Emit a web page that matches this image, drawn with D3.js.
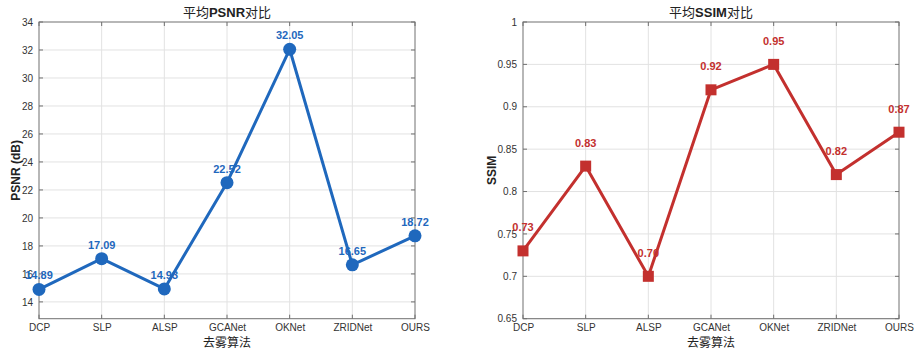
<html>
<head>
<meta charset="utf-8">
<title>去雾算法对比</title>
<style>
body {
	margin: 0;
	background: white;
}
svg {
	display: block;
	font-family: "Liberation Sans", Arial, sans-serif;
}
.tick text {
	fill: #333;
	font-size: 10px;
}
.grid line {
	stroke: #e2e2e2;
	stroke-width: 1px;
}
.frame {
	fill: none;
	stroke: #707070;
	stroke-width: 1px;
}
.ticks line {
	stroke: #707070;
}
.line {
	fill: none;
	stroke-width: 3px;
	stroke-linejoin: round;
}
.value {
	font-size: 11px;
	font-weight: 700;
	text-anchor: middle;
}
.title, .xlabel {
	font-family: "Noto Sans CJK SC", sans-serif;
	fill: #222;
	text-anchor: middle;
}
.title { font-size: 13px; }
.xlabel { font-size: 12px; }
.ylabel {
	font-size: 12px;
	font-weight: 700;
	fill: #222;
	text-anchor: middle;
}
</style>
</head>
<body>
<svg id="chart" width="914" height="355"></svg>

<script src="https://cdn.jsdelivr.net/npm/d3@7"></script>
<script>

var methods = ["DCP", "SLP", "ALSP", "GCANet", "OKNet", "ZRIDNet", "OURS"];
var psnr = [14.89, 17.09, 14.93, 22.52, 32.05, 16.65, 18.72];
var ssim = [0.73, 0.83, 0.70, 0.92, 0.95, 0.82, 0.87];
var psnrTicks = [14, 16, 18, 20, 22, 24, 26, 28, 30, 32, 34];
var ssimTicks = [0.65, 0.7, 0.75, 0.8, 0.85, 0.9, 0.95, 1];

var svg = d3.select("#chart");

var panels = [
	{left: 39, right: 415, top: 22, bottom: 318.7,
	 domain: [12.8, 34], ticks: psnrTicks, fmt: d3.format("d"),
	 values: psnr, color: "#1f68bd", marker: "circle", labelFmt: d3.format(".2f"), labelDy: -10,
	 title: ["平均", "PSNR", "对比"], ylabel: "PSNR (dB)", ylabelX: 16},
	{left: 523, right: 899, top: 22, bottom: 318.7,
	 domain: [0.65, 1], ticks: ssimTicks, fmt: function(d) { return d3.format("")(+d.toFixed(2)); },
	 values: ssim, color: "#c3302e", marker: "square", labelFmt: d3.format(".2f"), labelDy: -19.5,
	 title: ["平均", "SSIM", "对比"], ylabel: "SSIM", ylabelX: 492}
];

panels.forEach(function(p) {
	var x = d3.scalePoint()
		.domain(methods)
		.range([p.left, p.right]);
	var y = d3.scaleLinear()
		.domain(p.domain)
		.range([p.bottom, p.top]);

	var g = svg.append("g");

	// grid
	var grid = g.append("g").attr("class", "grid");
	grid.selectAll(".gx")
		.data(methods.slice(1, -1))
	  .enter().append("line")
		.attr("x1", function(d) { return x(d); })
		.attr("x2", function(d) { return x(d); })
		.attr("y1", p.top)
		.attr("y2", p.bottom);
	grid.selectAll(".gy")
		.data(p.ticks.filter(function(t) { return y(t) > p.top + 1; }))
	  .enter().append("line")
		.attr("x1", p.left)
		.attr("x2", p.right)
		.attr("y1", function(d) { return y(d); })
		.attr("y2", function(d) { return y(d); });

	// axes
	g.append("g")
		.attr("transform", "translate(" + p.left + ",0)")
		.call(d3.axisLeft(y).tickValues(p.ticks).tickFormat(p.fmt).tickSize(0).tickPadding(6))
		.call(function(a) { a.select(".domain").remove(); });
	g.append("g")
		.attr("transform", "translate(0," + p.bottom + ")")
		.call(d3.axisBottom(x).tickSize(0).tickPadding(5))
		.call(function(a) { a.select(".domain").remove(); });

	// inner tick marks on all sides
	var tk = g.append("g").attr("class", "ticks");
	p.ticks.forEach(function(t) {
		tk.append("line").attr("x1", p.left).attr("x2", p.left + 4).attr("y1", y(t)).attr("y2", y(t));
		tk.append("line").attr("x1", p.right).attr("x2", p.right - 4).attr("y1", y(t)).attr("y2", y(t));
	});
	methods.forEach(function(m) {
		tk.append("line").attr("x1", x(m)).attr("x2", x(m)).attr("y1", p.bottom).attr("y2", p.bottom - 4);
		tk.append("line").attr("x1", x(m)).attr("x2", x(m)).attr("y1", p.top).attr("y2", p.top + 4);
	});

	g.append("rect")
		.attr("class", "frame")
		.attr("x", p.left)
		.attr("y", p.top)
		.attr("width", p.right - p.left)
		.attr("height", p.bottom - p.top);

	// line
	var line = d3.line()
		.x(function(d, i) { return x(methods[i]); })
		.y(function(d) { return y(d); });
	g.append("path")
		.datum(p.values)
		.attr("class", "line")
		.attr("stroke", p.color)
		.attr("d", line);

	// markers
	if (p.marker == "circle") {
		g.selectAll(".marker")
			.data(p.values)
		  .enter().append("circle")
			.attr("cx", function(d, i) { return x(methods[i]); })
			.attr("cy", function(d) { return y(d); })
			.attr("r", 6.5)
			.attr("fill", p.color);
	} else {
		g.selectAll(".marker")
			.data(p.values)
		  .enter().append("rect")
			.attr("x", function(d, i) { return x(methods[i]) - 5.5; })
			.attr("y", function(d) { return y(d) - 5.5; })
			.attr("width", 11)
			.attr("height", 11)
			.attr("fill", p.color);
	}

	// value labels
	g.selectAll(".value")
		.data(p.values)
	  .enter().append("text")
		.attr("class", "value")
		.attr("fill", p.color)
		.attr("x", function(d, i) { return x(methods[i]); })
		.attr("y", function(d) { return y(d) + p.labelDy; })
		.text(function(d) { return p.labelFmt(d); });

	// title
	var cx = (p.left + p.right) / 2;
	var title = g.append("text")
		.attr("class", "title")
		.attr("x", cx)
		.attr("y", 17);
	title.append("tspan").text(p.title[0]);
	title.append("tspan").attr("font-family", "Liberation Sans, Arial, sans-serif").attr("font-weight", 700).text(p.title[1]);
	title.append("tspan").text(p.title[2]);

	g.append("text")
		.attr("class", "xlabel")
		.attr("x", cx)
		.attr("y", 347)
		.text("去雾算法");

	g.append("text")
		.attr("class", "ylabel")
		.attr("transform", "translate(" + (p.ylabelX + 4) + "," + ((p.top + p.bottom) / 2) + ") rotate(-90)")
		.text(p.ylabel);
});

</script>
</body>
</html>
